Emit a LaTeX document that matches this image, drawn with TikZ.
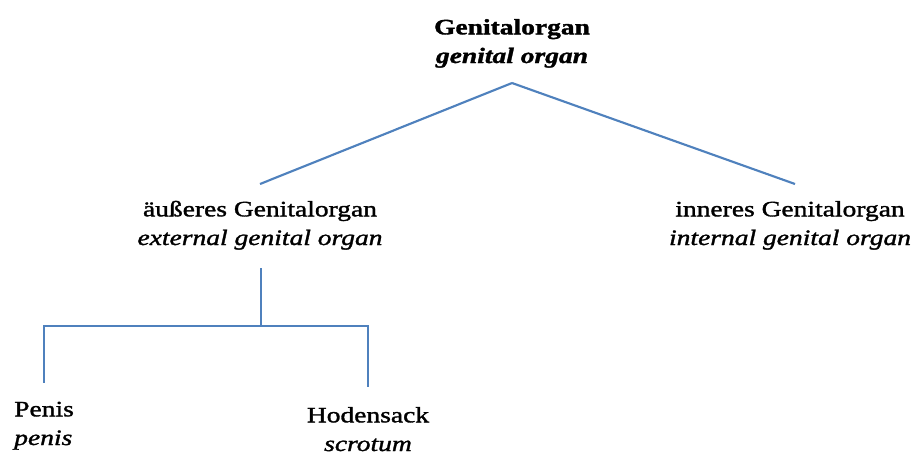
\documentclass[tikz,border=0pt]{standalone}
\usepackage{fontspec}
\setmainfont[FakeStretch=1.25,FakeBold=1.5]{Liberation Serif}
\definecolor{linkblue}{RGB}{79,129,189}
\begin{document}
\begin{tikzpicture}[x=0.75pt,y=-0.75pt,
  term/.style={inner sep=0pt, align=center, font=\fontsize{16.5}{21.5}\selectfont},
  link/.style={draw=linkblue, line width=1.6pt}]
\useasboundingbox (0,0) rectangle (923,457);

% terms (anchored on the baseline of their lower line)
\node[term, anchor=base] (organ) at (512,63)
  {\textbf{Genitalorgan}\\\textbf{\textit{genital organ}}};
\node[term, anchor=base] (ext) at (260,245)
  {äußeres Genitalorgan\\\textit{external genital organ}};
\node[term, anchor=base] (int) at (790,245)
  {inneres Genitalorgan\\\textit{internal genital organ}};
\node[term, align=left, anchor=base west] (penis) at (14,445)
  {Penis\\\textit{penis}};
\node[term, anchor=base] (scrot) at (368,451)
  {Hodensack\\\textit{scrotum}};

% connector ends
\coordinate (organB) at (512,83);
\coordinate (extT) at (260,184);
\coordinate (intT) at (795,184);
\coordinate (extB) at (261,268);
\coordinate (fork) at (261,326);
\coordinate (penisT) at (44,383);
\coordinate (scrotT) at (368,387);

% connectors
\draw[link] (organB) -- (extT);
\draw[link] (organB) -- (intT);
\draw[link] (extB) -- (fork) -| (penisT);
\draw[link] (fork) -| (scrotT);
\end{tikzpicture}
\end{document}
